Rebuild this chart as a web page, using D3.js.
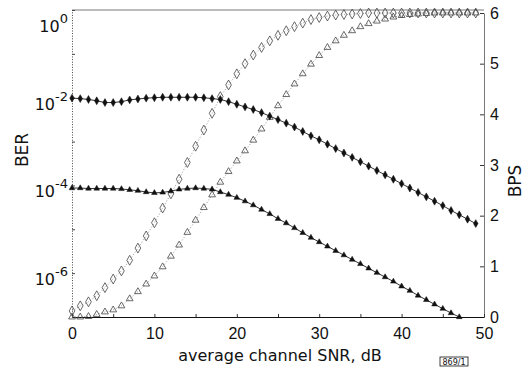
<!DOCTYPE html>
<html>
<head>
<meta charset="utf-8">
<script src="https://cdn.jsdelivr.net/npm/d3@7"></script>
<style>
  body{margin:0;background:#fff}
  svg{display:block;font-family:'DejaVu Sans',sans-serif}
</style>
</head>
<body>
<svg id="chart"></svg>
<script>
// average channel SNR, dB (one marker per dB)
const snrDb = [0,1,2,3,4,5,6,7,8,9,10,11,12,13,14,15,16,17,18,19,
  20,21,22,23,24,25,26,27,28,29,30,31,32,33,34,35,36,37,38,39,
  40,41,42,43,44,45,46,47,48,49];

// BER, stored as log10 exponent
const berDiamondExp = [-2.01,-2.02,-2.04,-2.07,-2.11,-2.11,-2.09,-2.05,-2.03,-2.01,
  -2.00,-1.99,-1.99,-1.99,-1.99,-1.99,-2.00,-2.02,-2.04,-2.09,
  -2.15,-2.21,-2.27,-2.34,-2.42,-2.50,-2.58,-2.67,-2.77,-2.87,
  -2.96,-3.06,-3.16,-3.26,-3.36,-3.46,-3.56,-3.66,-3.76,-3.86,
  -3.96,-4.06,-4.16,-4.26,-4.36,-4.46,-4.57,-4.67,-4.77,-4.87];
const berTriangleExp = [-4.06,-4.06,-4.07,-4.07,-4.07,-4.07,-4.08,-4.10,-4.12,-4.15,
  -4.17,-4.16,-4.13,-4.09,-4.07,-4.06,-4.07,-4.09,-4.15,-4.21,
  -4.28,-4.36,-4.45,-4.55,-4.65,-4.76,-4.86,-4.97,-5.08,-5.19,
  -5.29,-5.39,-5.49,-5.59,-5.69,-5.79,-5.89,-5.99,-6.09,-6.19,
  -6.30,-6.40,-6.51,-6.61,-6.71,-6.81,-6.91,-7.00];

// bits per symbol
const bpsDiamond = [0.12,0.22,0.30,0.42,0.58,0.75,0.91,1.12,1.36,1.60,
  1.86,2.15,2.43,2.72,3.05,3.37,3.69,4.02,4.35,4.58,
  4.80,5.00,5.17,5.32,5.45,5.56,5.65,5.73,5.80,5.87,
  5.91,5.94,5.96,5.97,5.98,5.99,6.00,6.00,6.00,6.00,
  6.00,6.00,6.00,6.00,6.00,6.00,6.00,6.00,6.00,6.00];
const bpsTriangle = [0.00,0.00,0.01,0.05,0.10,0.14,0.22,0.36,0.50,0.65,
  0.81,0.99,1.20,1.42,1.67,1.91,2.16,2.41,2.66,2.87,
  3.08,3.28,3.49,3.71,3.94,4.17,4.39,4.60,4.80,4.99,
  5.16,5.32,5.45,5.56,5.65,5.73,5.79,5.84,5.88,5.92,
  5.95,5.97,5.98,5.99,6.00,6.00,6.00,6.00,6.00,6.00];

const berTickExp = [0,-1,-2,-3,-4,-5,-6,-7];
const berLabelExp = [0,-2,-4,-6];
const bpsTicks = [0,1,2,3,4,5,6];
const snrTicks = [0,5,10,15,20,25,30,35,40,45,50];
const snrLabels = [0,10,20,30,40,50];

const W = 526, H = 367;
const svg = d3.select('#chart').attr('width', W).attr('height', H);

const x = d3.scaleLinear().domain([0, 50]).range([72, 484]);
const yBer = d3.scaleLog().domain([1e-7, 1]).range([317, 10]);
const yBps = d3.scaleLinear().domain([0, 6]).range([317, 13]);

/* ── axes ── */
// top border
svg.append('line').attr('x1', x(0)).attr('x2', x(50)).attr('y1', 10).attr('y2', 10)
  .attr('stroke', '#555').attr('stroke-width', 0.8);

const left = svg.append('g').attr('transform', `translate(${x(0)},0)`)
  .call(d3.axisLeft(yBer).tickValues(berTickExp.map(e => Math.pow(10, e)))
    .tickSizeInner(-3).tickSizeOuter(0).tickFormat(''));
left.select('.domain').attr('stroke', '#444').attr('stroke-dasharray', '1,1.6');
left.selectAll('.tick line').attr('stroke', '#444');

berLabelExp.forEach(e => {
  const ty = yBer(Math.pow(10, e)) + (e === 0 ? 21.5 : 12);
  const t = svg.append('text').attr('x', 68).attr('y', ty)
    .attr('text-anchor', 'end').attr('fill', '#111').style('font-size', '16px');
  t.append('tspan').text('10');
  t.append('tspan').attr('dy', -9).style('font-size', '13px').text(e === 0 ? '0' : '-' + (-e));
});

const right = svg.append('g').attr('transform', `translate(${x(50)},0)`)
  .call(d3.axisRight(yBps).tickValues(bpsTicks).tickSizeInner(-4).tickSizeOuter(0).tickPadding(6)
    .tickFormat(d => String(d)));
right.select('.domain').attr('stroke', '#555').attr('stroke-width', 0.8);
right.selectAll('.tick line').attr('stroke', '#333');
right.selectAll('text').attr('fill', '#111').style('font-size', '16px');

const bottom = svg.append('g').attr('transform', `translate(0,${yBps(0)})`)
  .call(d3.axisBottom(x).tickValues(snrTicks).tickSizeInner(-3).tickSizeOuter(0).tickPadding(11)
    .tickFormat(d => snrLabels.includes(d) ? d : ''));
bottom.select('.domain').attr('stroke', '#111').attr('stroke-width', 1.2);
bottom.selectAll('.tick line').attr('stroke', '#333');
bottom.selectAll('text').attr('fill', '#111').style('font-size', '16px');

svg.append('text').attr('x', 280).attr('y', 361).attr('text-anchor', 'middle')
  .attr('fill', '#111').style('font-size', '16px').text('average channel SNR, dB');
svg.append('text').attr('transform', 'translate(28,150) rotate(-90)').attr('text-anchor', 'middle')
  .attr('fill', '#111').style('font-size', '17px').text('BER');
svg.append('text').attr('transform', 'translate(521,181) rotate(-90)').attr('text-anchor', 'middle')
  .attr('fill', '#111').style('font-size', '17px').text('BPS');

svg.append('rect').attr('x', 440).attr('y', 357).attr('width', 28).attr('height', 9)
  .attr('fill', 'none').attr('stroke', '#111').attr('stroke-width', 0.8);
svg.append('text').attr('x', 454).attr('y', 364.5).attr('text-anchor', 'middle')
  .attr('fill', '#111').style('font-size', '8px').text('869/1');

/* ── series ── */
const series = [
  { xs: snrDb, ys: bpsDiamond, y: v => yBps(v), sym: d3.symbolDiamond, size: 28, filled: false },
  { xs: snrDb, ys: bpsTriangle, y: v => yBps(v), sym: d3.symbolTriangle, size: 20, filled: false },
  { xs: snrDb, ys: berDiamondExp, y: v => yBer(Math.pow(10, v)), sym: d3.symbolDiamond, size: 18, filled: true },
  { xs: snrDb.slice(0, berTriangleExp.length), ys: berTriangleExp, y: v => yBer(Math.pow(10, v)), sym: d3.symbolTriangle, size: 14, filled: true },
];

series.forEach(s => {
  const pts = s.xs.map((d, i) => [x(d), s.y(s.ys[i])]);
  svg.append('path').datum(pts).attr('d', d3.line())
    .attr('fill', 'none')
    .attr('stroke', s.filled ? '#333' : '#888')
    .attr('stroke-width', s.filled ? 1 : 0.9)
    .attr('stroke-dasharray', s.filled ? null : '1,2');
  svg.append('g').selectAll('path').data(pts).enter().append('path')
    .attr('transform', d => `translate(${d[0]},${d[1]})`)
    .attr('d', d3.symbol().type(s.sym).size(s.size))
    .attr('fill', s.filled ? '#111' : 'none')
    .attr('stroke', s.filled ? '#111' : '#444')
    .attr('stroke-width', s.filled ? 0.5 : 0.8);
});
</script>
</body>
</html>
